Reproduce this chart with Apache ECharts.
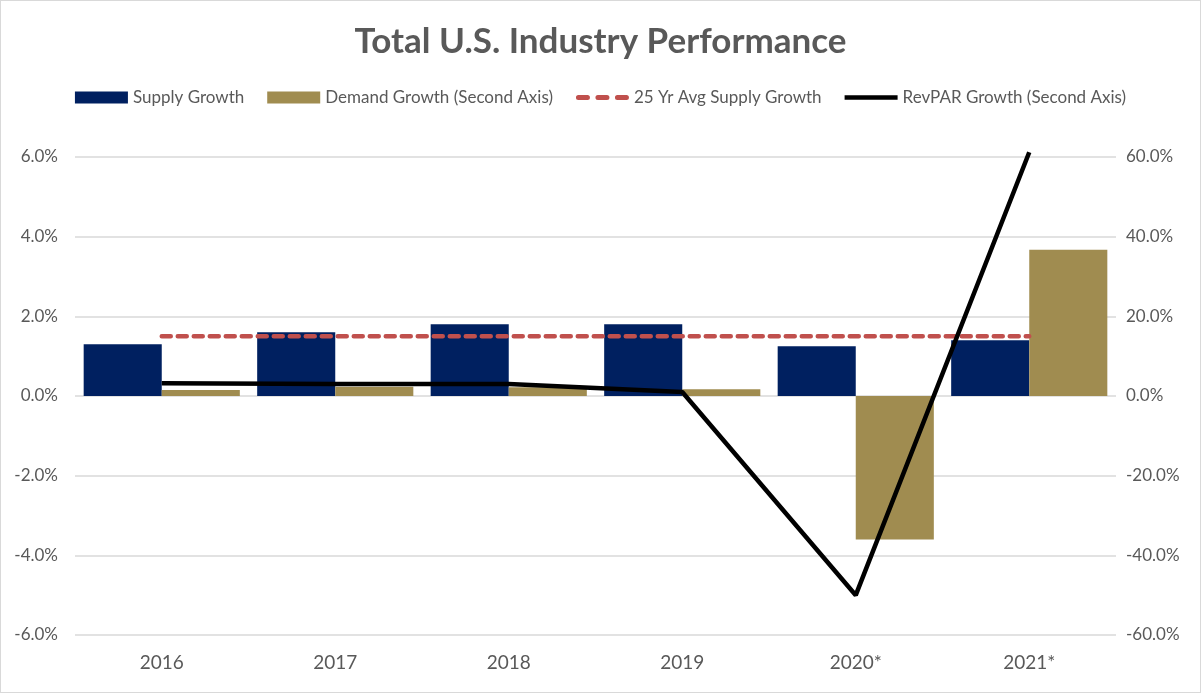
<!DOCTYPE html>
<html>
<head>
<meta charset="utf-8">
<script src="https://cdn.jsdelivr.net/npm/echarts@6/dist/echarts.min.js"></script>
<style>
  html, body { margin: 0; padding: 0; background: #fff; }
  #main { width: 1199px; height: 691px; border: 1px solid #d9d9d9; }
</style>
</head>
<body>
<div id="main"></div>
<script>
// values
var years = ['2016', '2017', '2018', '2019', '2020*', '2021*'];
var supplyGrowth = [1.3, 1.6, 1.8, 1.8, 1.25, 1.4];        // left axis, %
var demandGrowth = [1.5, 2.3, 2.2, 1.7, -36.0, 36.7];      // second axis, %
var avgSupplyGrowth = [1.5, 1.5, 1.5, 1.5, 1.5, 1.5];      // left axis, %
var revparGrowth = [3.2, 3.0, 3.0, 1.0, -50.0, 61.2];      // second axis, %

var textColor = '#595959';
var fontFamily = 'Lato, "Open Sans", sans-serif';

// legend icons drawn in a 53x12 box (tiny corner specks keep the box size)
var corners = 'M0,0h0.01v0.01h-0.01z M52.99,11.99h0.01v0.01h-0.01z ';
var dashIcon = 'path://' + corners +
  'M2.5,3.5h9a2.5,2.5 0 0 1 0,5h-9a2.5,2.5 0 0 1 0,-5z ' +
  'M22,3.5h9a2.5,2.5 0 0 1 0,5h-9a2.5,2.5 0 0 1 0,-5z ' +
  'M41.5,3.5h9a2.5,2.5 0 0 1 0,5h-9a2.5,2.5 0 0 1 0,-5z';
var lineIcon = 'path://' + corners + 'M0,3.7h53v4.6h-53z';

var chart = echarts.init(document.getElementById('main'));

function pct(v) {
  return v.toFixed(1) + '%';
}

chart.setOption({
  animation: false,
  textStyle: { fontFamily: fontFamily },
  title: {
    text: 'Total U.S. Industry Performance',
    left: 'center',
    top: 18,
    textStyle: {
      color: textColor,
      fontSize: 35,
      fontWeight: 'bold',
      fontFamily: fontFamily
    }
  },
  legend: {
    top: 83,
    left: 'center',
    itemWidth: 53,
    itemHeight: 12,
    itemGap: 23,
    textStyle: { color: textColor, fontSize: 17 },
    data: [
      { name: 'Supply Growth', icon: 'rect' },
      { name: 'Demand Growth (Second Axis)', icon: 'rect' },
      { name: '25 Yr Avg Supply Growth', icon: dashIcon },
      { name: 'RevPAR Growth (Second Axis)', icon: lineIcon }
    ]
  },
  grid: {
    left: 74,
    right: 84,
    top: 156,
    bottom: 57
  },
  xAxis: {
    type: 'category',
    data: years,
    axisLine: { show: false },
    axisTick: { show: false },
    axisLabel: {
      color: textColor,
      fontSize: 19,
      margin: 18
    }
  },
  yAxis: [
    {
      type: 'value',
      min: -6,
      max: 6,
      interval: 2,
      axisLine: { show: false },
      axisTick: { show: false },
      splitLine: { lineStyle: { color: '#d9d9d9', width: 1.5 } },
      axisLabel: {
        color: textColor,
        fontSize: 17,
        margin: 17,
        formatter: pct
      }
    },
    {
      type: 'value',
      min: -60,
      max: 60,
      interval: 20,
      axisLine: { show: false },
      axisTick: { show: false },
      splitLine: { show: false },
      axisLabel: {
        color: textColor,
        fontSize: 17,
        margin: 10,
        formatter: pct
      }
    }
  ],
  series: [
    {
      name: 'Supply Growth',
      type: 'bar',
      yAxisIndex: 0,
      data: supplyGrowth,
      barGap: '0%',
      barCategoryGap: '10%',
      itemStyle: { color: '#002060' }
    },
    {
      name: 'Demand Growth (Second Axis)',
      type: 'bar',
      yAxisIndex: 1,
      data: demandGrowth,
      itemStyle: { color: '#a08c50' }
    },
    {
      name: '25 Yr Avg Supply Growth',
      type: 'line',
      yAxisIndex: 0,
      data: avgSupplyGrowth,
      symbol: 'none',
      lineStyle: {
        color: '#c0504d',
        width: 4.5,
        type: [9, 7],
        cap: 'round'
      },
      itemStyle: { color: '#c0504d' }
    },
    {
      name: 'RevPAR Growth (Second Axis)',
      type: 'line',
      yAxisIndex: 1,
      data: revparGrowth,
      symbol: 'none',
      clip: false,
      lineStyle: { color: '#000', width: 4.5 },
      itemStyle: { color: '#000' }
    }
  ]
});
</script>
</body>
</html>
